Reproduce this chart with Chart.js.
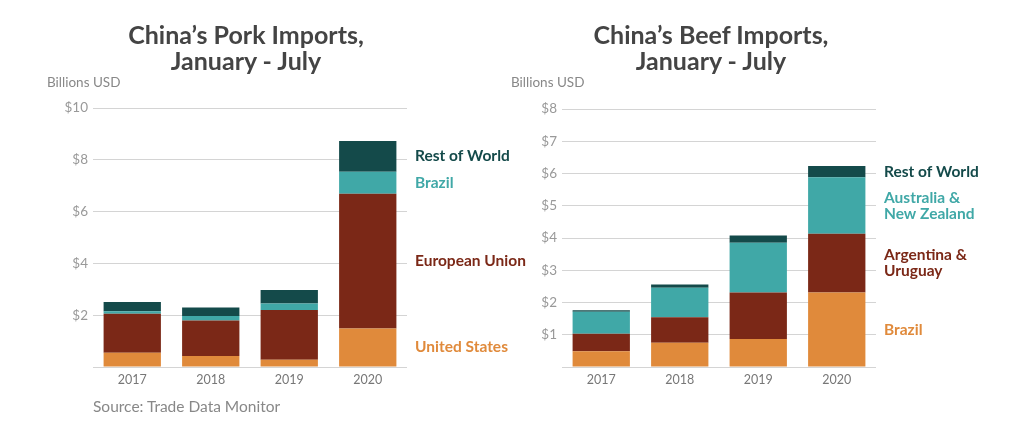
<!DOCTYPE html>
<html>
<head>
<meta charset="utf-8">
<script src="https://cdn.jsdelivr.net/npm/chart.js@4"></script>
<style>
  body { margin: 0; background: #fff; width: 1024px; height: 431px; overflow: hidden; font-family: Lato, sans-serif; }
  .box { position: absolute; top: 0; height: 431px; }
  .title { position: absolute; top: 21px; font-weight: bold; font-size: 25px; line-height: 26px; color: #444; text-align: center; }
  .unit { position: absolute; top: 74px; font-size: 13.5px; color: #888; }
  .source { position: absolute; left: 93px; top: 397px; font-size: 15.5px; color: #888; }
</style>
</head>
<body>
<div class="box" style="left:0;width:560px"><canvas id="porkChart" width="560" height="431"></canvas></div>
<div class="box" style="left:512px;width:512px"><canvas id="beefChart" width="512" height="431"></canvas></div>
<div class="title" style="left:96px;width:300px">China’s Pork Imports,<br>January - July</div>
<div class="title" style="left:561px;width:300px">China’s Beef Imports,<br>January - July</div>
<div class="unit" style="left:47px">Billions USD</div>
<div class="unit" style="left:511px">Billions USD</div>
<div class="source">Source: Trade Data Monitor</div>
<script>
// shared
const years = ['2017', '2018', '2019', '2020'];
const colors = ['#e08a3b', '#7b2817', '#40a8a7', '#144a4a'];

// pork, billions USD (bottom to top)
const porkUS = [0.55, 0.42, 0.28, 1.49];
const porkEU = [1.51, 1.38, 1.92, 5.20];
const porkBrazil = [0.09, 0.17, 0.25, 0.85];
const porkRest = [0.36, 0.33, 0.52, 1.19];
const porkLabels = [['United States'], ['European Union'], ['Brazil'], ['Rest of World']];

// beef, billions USD (bottom to top)
const beefBrazil = [0.49, 0.75, 0.87, 2.31];
const beefArgUru = [0.54, 0.79, 1.44, 1.82];
const beefAusNz = [0.68, 0.92, 1.54, 1.75];
const beefRest = [0.05, 0.10, 0.23, 0.35];
const beefLabels = [['Brazil'], ['Argentina &', 'Uruguay'], ['Australia &', 'New Zealand'], ['Rest of World']];

// writes the series names next to the last bar
const sideLabels = {
    id: 'sideLabels',
    afterDatasetsDraw(chart, args, opts) {
        const ctx = chart.ctx;
        ctx.save();
        ctx.font = 'bold 15.5px Lato, sans-serif';
        ctx.textBaseline = 'middle';
        ctx.textAlign = 'left';
        chart.data.datasets.forEach(function (ds, i) {
            const meta = chart.getDatasetMeta(i);
            const bar = meta.data[meta.data.length - 1];
            const mid = (bar.y + bar.base) / 2;
            const lines = opts.names[i];
            ctx.fillStyle = ds.backgroundColor;
            lines.forEach(function (t, j) {
                ctx.fillText(t, chart.chartArea.right + 8, mid + (j - (lines.length - 1) / 2) * 16);
            });
        });
        ctx.restore();
    }
};

function makeChart(id, series, names, max, pad, yWidth) {
    return new Chart(document.getElementById(id), {
        type: 'bar',
        data: {
            labels: years,
            datasets: series.map(function (s, i) {
                return {
                    data: s,
                    backgroundColor: colors[i],
                    borderWidth: 0,
                    barPercentage: 0.73,
                    categoryPercentage: 1
                };
            })
        },
        options: {
            responsive: false,
            animation: false,
            layout: { padding: pad },
            plugins: {
                legend: { display: false },
                tooltip: { enabled: false },
                sideLabels: { names: names }
            },
            scales: {
                x: {
                    stacked: true,
                    grid: { display: false, drawTicks: false },
                    border: { display: false },
                    ticks: { color: '#777', padding: 5, font: { family: 'Lato', size: 12.5 } },
                    afterFit: function (axis) { axis.height = 24; }
                },
                y: {
                    stacked: true,
                    min: 0,
                    max: max,
                    ticks: {
                        stepSize: max === 10 ? 2 : 1,
                        color: '#999',
                        padding: 5,
                        font: { family: 'Lato', size: 13.5 },
                        callback: function (v) { return v === 0 ? '' : '$' + v; }
                    },
                    grid: { color: '#d4d4d4', drawTicks: false },
                    border: { display: false },
                    afterFit: function (axis) { axis.width = yWidth; }
                }
            }
        },
        plugins: [sideLabels]
    });
}

makeChart('porkChart', [porkUS, porkEU, porkBrazil, porkRest], porkLabels, 10,
    { left: 40, right: 153, top: 108, bottom: 40 }, 53);
makeChart('beefChart', [beefBrazil, beefArgUru, beefAusNz, beefRest], beefLabels, 8,
    { left: 10, right: 148, top: 109, bottom: 40 }, 40);
</script>
</body>
</html>
